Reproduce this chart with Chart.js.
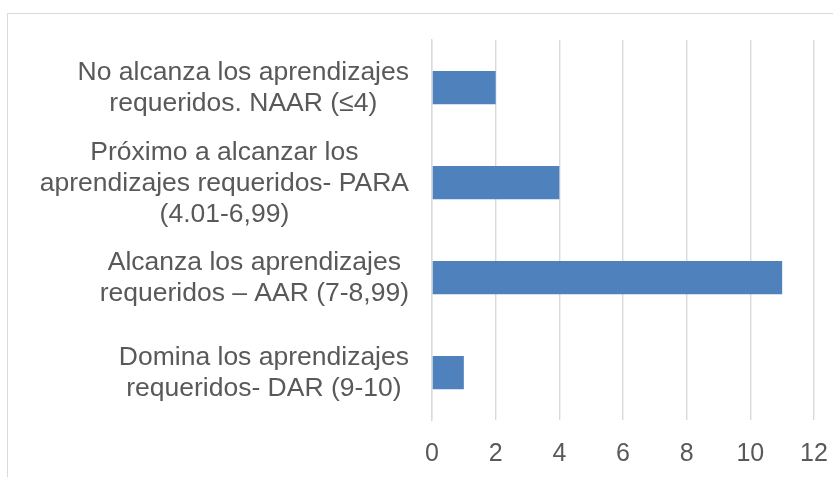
<!DOCTYPE html>
<html>
<head>
<meta charset="utf-8">
<script src="https://cdn.jsdelivr.net/npm/chart.js@4.4.0/dist/chart.umd.min.js"></script>
<style>
html,body{margin:0;padding:0;background:#fff;}
#wrap{width:833px;height:477px;position:relative;}
</style>
</head>
<body>
<div id="wrap"><canvas id="c" width="833" height="477"></canvas></div>
<script>
// categorias (de cima para baixo) e valores
const categorias = [
  ['No alcanza los aprendizajes', 'requeridos. NAAR (≤4)'],
  ['Próximo a alcanzar los', 'aprendizajes requeridos- PARA', '(4.01-6,99)'],
  ['Alcanza los aprendizajes', 'requeridos – AAR (7-8,99)'],
  ['Domina los aprendizajes', 'requeridos- DAR (9-10)']
];
const valores = [2, 4, 11, 1];
const ticksX = [0, 2, 4, 6, 8, 10, 12];

const FONT = '"Liberation Sans", Arial, sans-serif';
const TXT = '#595959';
const GRID = '#d9d9d9';

// moldura cinza e rótulos das categorias centrados por bloco
const extras = {
  id: 'extras',
  beforeDraw(chart){
    const ctx = chart.ctx;
    ctx.save();
    ctx.strokeStyle = GRID;
    ctx.lineWidth = 1;
    ctx.strokeRect(7.5, 13.5, 1000, 1000);
    ctx.restore();
  },
  afterDraw(chart){
    const ctx = chart.ctx;
    const sy = chart.scales.y;
    const size = 26.5, lh = 31;
    ctx.save();
    ctx.font = size + 'px ' + FONT;
    ctx.fillStyle = TXT;
    ctx.textAlign = 'center';
    ctx.textBaseline = 'middle';
    const right = chart.chartArea.left - 23;
    categorias.forEach((lines, i) => {
      const yc = sy.getPixelForTick(i);
      const w = Math.max(...lines.map(l => ctx.measureText(l).width));
      const cx = right - w / 2;
      const y0 = yc - (lines.length - 1) * lh / 2;
      lines.forEach((l, k) => ctx.fillText(l, cx, y0 + k * lh + 1));
    });
    ctx.restore();
  }
};

new Chart(document.getElementById('c'), {
  type: 'bar',
  data: {
    labels: categorias.map(c => c.join(' ')),
    datasets: [{
      data: valores,
      backgroundColor: '#4f81bd',
      borderWidth: 0,
      categoryPercentage: 1,
      barPercentage: 0.35
    }]
  },
  options: {
    indexAxis: 'y',
    responsive: false,
    animation: false,
    layout: { padding: { left: 432, top: 40, right: 19, bottom: 0 } },
    plugins: { legend: { display: false }, tooltip: { enabled: false } },
    scales: {
      x: {
        min: 0, max: 12,
        afterBuildTicks: s => { s.ticks = ticksX.map(v => ({ value: v })); },
        afterFit: s => { s.height = 57; s.paddingRight = 0; s.paddingLeft = 0; },
        grid: { color: GRID, lineWidth: 1.4, drawTicks: false },
        border: { display: false },
        ticks: { color: TXT, font: { family: FONT, size: 25 }, padding: 19, maxRotation: 0 }
      },
      y: {
        afterFit: s => { s.width = 0; },
        grid: { display: false },
        border: { display: true, color: GRID, width: 1.4 },
        ticks: { display: false }
      }
    }
  },
  plugins: [extras]
});
</script>
</body>
</html>
